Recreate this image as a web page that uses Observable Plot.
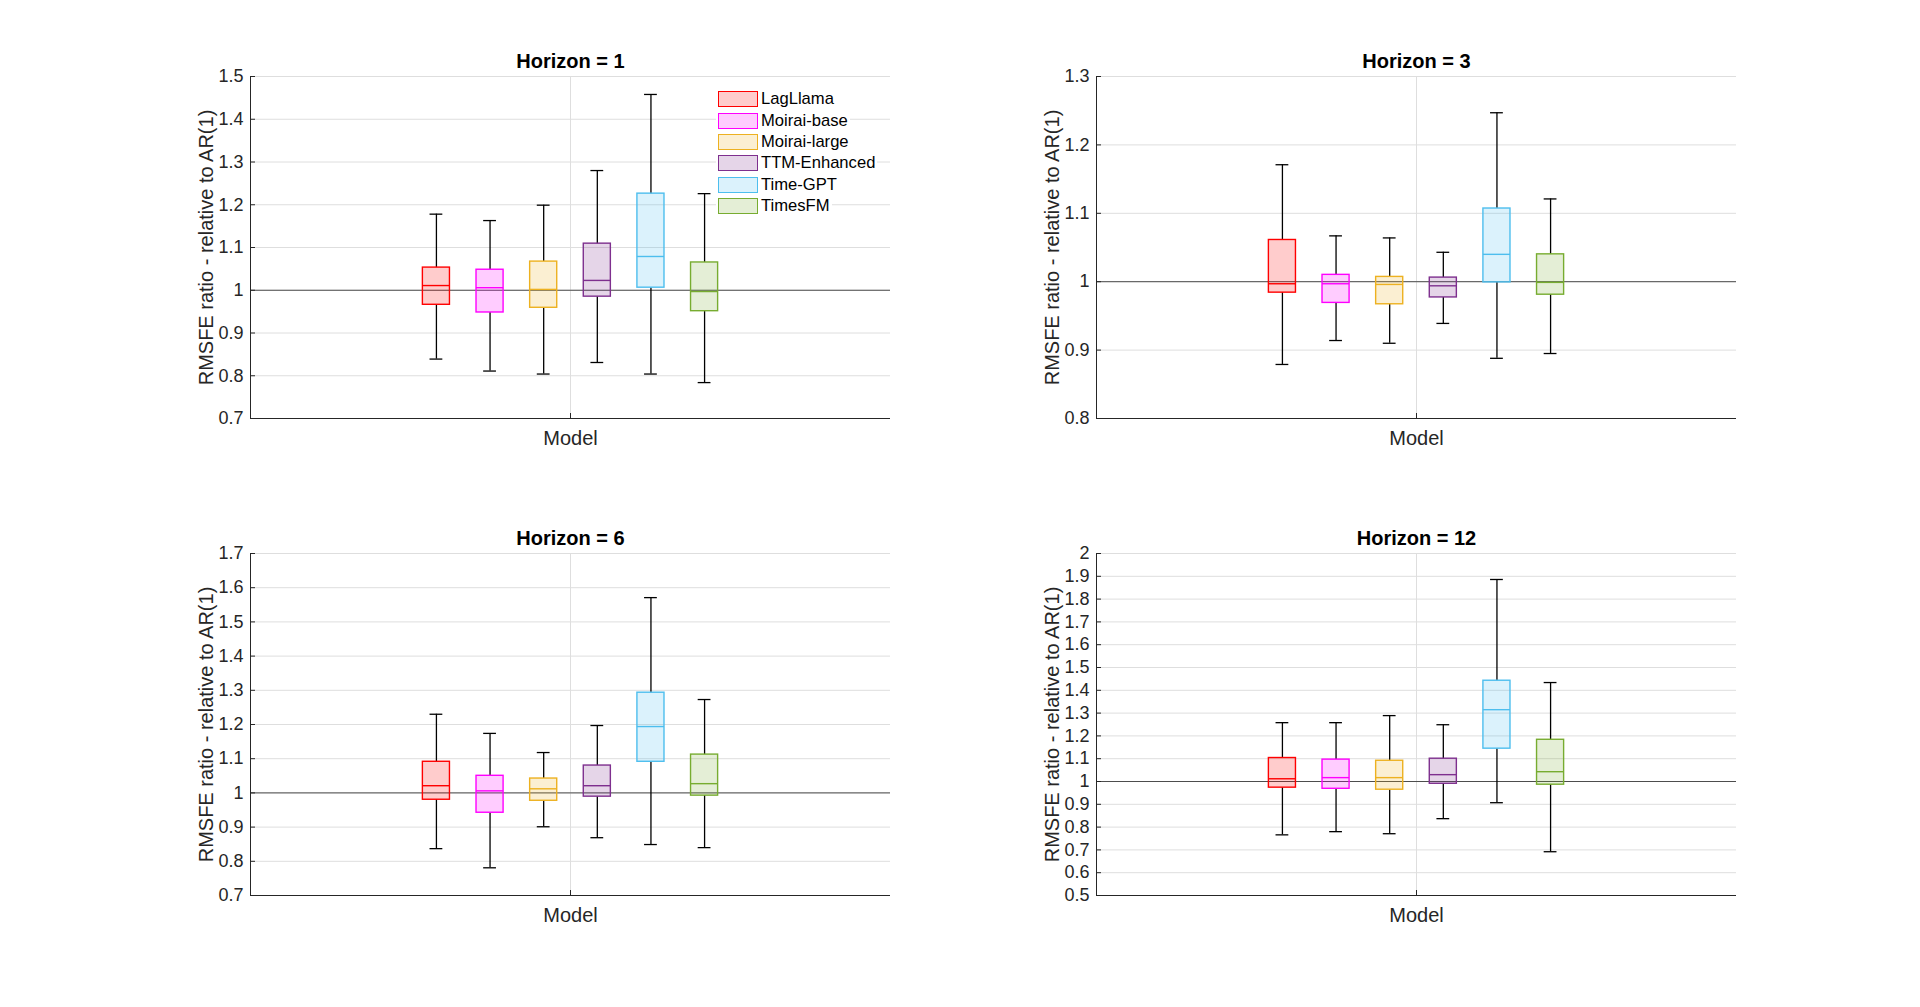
<!DOCTYPE html>
<html>
<head>
<meta charset="utf-8">
<script src="https://cdn.jsdelivr.net/npm/d3@7"></script>
<script src="https://cdn.jsdelivr.net/npm/@observablehq/plot@0.6"></script>
<style>
  html, body { margin: 0; padding: 0; background: #fff; }
  body { width: 1920px; height: 1007px; overflow: hidden; position: relative;
         font-family: "Liberation Sans", Arial, Helvetica, sans-serif; }
  .panel { position: absolute; }
  .legend { position: absolute; left: 716px; top: 88.6px; font-size: 16.6px; color: #000; }
  .legend .row { display: flex; align-items: center; height: 21.4px; width: max-content;
                 background: #fff; padding-left: 2px; padding-right: 2px; }
  .legend .swatch { width: 40px; height: 16px; box-sizing: border-box; border: 1.3px solid; margin-right: 3px; }
</style>
</head>
<body>
<div id="root"></div>
<script>
// ---------------- data ----------------
const models = ["LagLlama", "Moirai-base", "Moirai-large", "TTM-Enhanced", "Time-GPT", "TimesFM"];
const colors = ["#FF0000", "#FF00FF", "#EDB120", "#7E2F8E", "#4DBEEE", "#77AC30"];
const horizons = [1, 3, 6, 12];
const categoryLabel = "Model";
const yLabel = "RMSFE ratio - relative to AR(1)";
const yLimits = [[0.7, 1.5], [0.8, 1.3], [0.7, 1.7], [0.5, 2.0]];
const yTickStep = 0.1;

// one row per horizon, one value per model (order as in `models`)
const whiskerLow = [
  [0.839, 0.811, 0.804, 0.831, 0.804, 0.784],
  [0.879, 0.914, 0.910, 0.939, 0.888, 0.895],
  [0.837, 0.781, 0.901, 0.869, 0.849, 0.840],
  [0.766, 0.780, 0.771, 0.837, 0.907, 0.692]
];
const quartile1 = [
  [0.966, 0.948, 0.959, 0.985, 1.006, 0.951],
  [0.984, 0.969, 0.967, 0.977, 0.999, 0.981],
  [0.980, 0.942, 0.977, 0.989, 1.091, 0.992],
  [0.973, 0.968, 0.964, 0.990, 1.144, 0.986]
];
const median = [
  [1.011, 1.006, 1.002, 1.023, 1.079, 0.997],
  [0.997, 0.997, 0.996, 0.994, 1.040, 0.999],
  [1.021, 1.006, 1.012, 1.021, 1.194, 1.027],
  [1.012, 1.017, 1.017, 1.030, 1.315, 1.043]
];
const quartile3 = [
  [1.053, 1.048, 1.067, 1.109, 1.226, 1.065],
  [1.061, 1.010, 1.007, 1.006, 1.107, 1.040],
  [1.091, 1.050, 1.042, 1.080, 1.293, 1.112],
  [1.103, 1.096, 1.091, 1.100, 1.442, 1.183]
];
const whiskerHigh = [
  [1.178, 1.163, 1.199, 1.280, 1.458, 1.226],
  [1.171, 1.067, 1.064, 1.043, 1.247, 1.121],
  [1.230, 1.174, 1.118, 1.197, 1.571, 1.273],
  [1.258, 1.258, 1.289, 1.249, 1.886, 1.434]
];

// ---------------- layout ----------------
const panelLeft = [0, 846, 0, 846];
const panelTop = [0, 0, 477, 477];
const groupStep = 0.0838;   // spacing of grouped boxes (x units, category width = 1)
const boxWidth = 0.0423;
const capWidth = 0.02;
const font = '"Liberation Sans", Arial, Helvetica, sans-serif';
const ink = "#262626";
const whiskerInk = "#000000";
const gridColor = "#dedede";

const root = document.getElementById("root");

horizons.forEach((h, p) => {
  const [y0, y1] = yLimits[p];
  const yTicks = d3.range(Math.round(y0 / yTickStep), Math.round(y1 / yTickStep) + 1).map(v => +(v * yTickStep).toFixed(2));
  const rows = models.map((m, i) => ({
    model: m,
    pos: 1 + (i - (models.length - 1) / 2) * groupStep,
    low: whiskerLow[p][i],
    q1: quartile1[p][i],
    med: median[p][i],
    q3: quartile3[p][i],
    high: whiskerHigh[p][i]
  }));

  const chart = Plot.plot({
    width: 960,
    height: 503,
    marginLeft: 250,
    marginRight: 70,
    marginTop: 76,
    marginBottom: 85,
    style: { fontFamily: font, fontSize: "18px", color: ink, background: "transparent", overflow: "visible" },
    x: { domain: [0.5, 1.5], axis: null },
    y: { domain: [y0, y1], axis: null },
    color: { domain: models, range: colors },
    marks: [
      Plot.gridY(yTicks, { stroke: gridColor, strokeOpacity: 1 }),
      Plot.gridX([1], { stroke: gridColor, strokeOpacity: 1 }),
      Plot.ruleY([1], { stroke: "#4d4d4d", strokeWidth: 1 }),
      // whiskers
      Plot.ruleX(rows, { x: "pos", y1: "low", y2: "q1", stroke: whiskerInk, strokeWidth: 1.3 }),
      Plot.ruleX(rows, { x: "pos", y1: "q3", y2: "high", stroke: whiskerInk, strokeWidth: 1.3 }),
      Plot.ruleY(rows, { y: "low", x1: d => d.pos - capWidth / 2, x2: d => d.pos + capWidth / 2, stroke: whiskerInk, strokeWidth: 1.3 }),
      Plot.ruleY(rows, { y: "high", x1: d => d.pos - capWidth / 2, x2: d => d.pos + capWidth / 2, stroke: whiskerInk, strokeWidth: 1.3 }),
      // boxes
      Plot.rect(rows, {
        x1: d => d.pos - boxWidth / 2, x2: d => d.pos + boxWidth / 2,
        y1: "q1", y2: "q3",
        fill: "model", fillOpacity: 0.2, stroke: "model", strokeWidth: 1.4
      }),
      Plot.ruleY(rows, { y: "med", x1: d => d.pos - boxWidth / 2, x2: d => d.pos + boxWidth / 2, stroke: "model", strokeWidth: 1.4 }),
      // axes lines
      Plot.ruleX([0.5], { stroke: ink, strokeWidth: 1 }),
      Plot.ruleY([y0], { stroke: ink, strokeWidth: 1 }),
      Plot.axisY(yTicks, { tickSize: -5, tickPadding: 12, tickFormat: d => String(+d.toFixed(2)), label: null, fontSize: 18, fill: ink, stroke: ink }),
      Plot.axisX([1], { tickSize: -5, tickFormat: () => "", label: null, stroke: ink }),
      Plot.text([categoryLabel], { text: d => d, frameAnchor: "bottom", lineAnchor: "bottom", dy: 26, fontSize: 20, fill: ink }),
      Plot.text([`Horizon = ${h}`], { text: d => d, frameAnchor: "top", lineAnchor: "bottom", dy: -9, fontSize: 20, fontWeight: "bold", fill: "#000" }),
      Plot.text([yLabel], { text: d => d, frameAnchor: "left", textAnchor: "middle", lineAnchor: "bottom", rotate: -90, dx: -38, fontSize: 20, fill: ink })
    ]
  });
  const div = document.createElement("div");
  div.className = "panel";
  div.style.left = panelLeft[p] + "px";
  div.style.top = panelTop[p] + "px";
  div.appendChild(chart);
  root.appendChild(div);
});

// legend (first panel, top right)
const legend = document.createElement("div");
legend.className = "legend";
models.forEach((m, i) => {
  const row = document.createElement("div");
  row.className = "row";
  const sw = document.createElement("div");
  sw.className = "swatch";
  const c = d3.color(colors[i]);
  sw.style.borderColor = colors[i];
  sw.style.background = `rgba(${c.r},${c.g},${c.b},0.2)`;
  const label = document.createElement("span");
  label.textContent = m;
  row.appendChild(sw);
  row.appendChild(label);
  legend.appendChild(row);
});
document.body.appendChild(legend);
</script>
</body>
</html>
